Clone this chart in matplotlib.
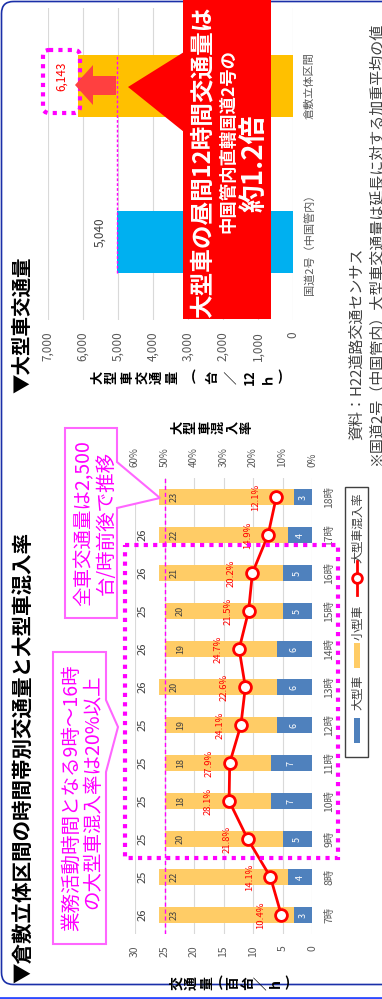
import matplotlib
matplotlib.use("Agg")
import matplotlib.pyplot as plt
from matplotlib.patches import Polygon, FancyBboxPatch, Rectangle
import numpy as np

plt.rcParams['font.family'] = ['Noto Sans CJK JP', 'DejaVu Sans']

# ---- data: hourly traffic at the Kurashiki section (hundred vehicles / h)
hours = ["7時", "8時", "9時", "10時", "11時", "12時", "13時", "14時", "15時", "16時", "17時", "18時"]
large = [3, 4, 5, 7, 7, 6, 6, 6, 5, 5, 4, 3]
small = [23, 22, 20, 18, 18, 19, 20, 19, 20, 21, 22, 23]
total_labels = ["26", "25", "25", "25", "25", "25", "26", "26", "25", "26", "26", ""]
mix_rate = [10.4, 14.1, 21.8, 28.1, 27.9, 24.1, 22.6, 24.7, 21.5, 20.2, 14.9, 12.1]

# ---- data: heavy vehicle volume (vehicles / 12h)
roads = ["国道2号（中国管内）", "倉敷立体区間"]
heavy_12h = [5040, 6143]
heavy_labels = ["5,040", "6,143"]

W, H = 382, 999
fig = plt.figure(figsize=(W / 100, H / 100), dpi=100)


def box(x0, y0, x1, y1):
    # pixel box (y down) -> figure fraction rect
    return [x0 / W, 1 - y1 / H, (x1 - x0) / W, (y1 - y0) / H]


BLUE = '#4F81BD'
ORANGE = '#FFCC66'
GRAY = '#595959'
MAG = '#FF00FF'

# ================= left chart =================
ax1 = fig.add_axes(box(135, 478, 312, 934))
y = np.arange(len(hours))
ax1.barh(y, large, height=0.44, color=BLUE, zorder=2)
ax1.barh(y, small, left=large, height=0.44, color=ORANGE, zorder=2)
ax1.set_xlim(30, 0)
ax1.set_ylim(-0.5, len(hours) - 0.5)
ax1.set_xticks(range(0, 31, 5))
ax1.tick_params(axis='x', labelrotation=90, labelsize=7.5, labelcolor=GRAY, length=0, pad=8)
ax1.grid(axis='x', color='#D9D9D9', lw=0.8)
ax1.set_axisbelow(True)
ax1.yaxis.tick_right()
ax1.set_yticks(y)
ax1.set_yticklabels(hours, rotation=90, va='center')
ax1.tick_params(axis='y', length=0, pad=9, labelsize=7.5, labelcolor=GRAY)
for s in ax1.spines.values():
    s.set_visible(False)
ax1.axvline(25, color=MAG, lw=1, ls=(0, (3, 2)), zorder=3)

for i in range(len(hours)):
    ax1.text(large[i] / 2, i, str(large[i]), rotation=90, ha='center', va='center',
             color='white', fontsize=6.5, zorder=4)
    ax1.text(large[i] + small[i] - 2.7, i, str(small[i]), rotation=90, ha='center',
             va='center', color='#404040', fontsize=6.5, zorder=4)
    ax1.text(28.8, i, total_labels[i], rotation=90, ha='center', va='center',
             color='#404040', fontsize=8, zorder=4)

ax2 = ax1.twiny()
ax2.set_xlim(60, 0)
ax2.set_xticks(range(0, 61, 10))
ax2.set_xticklabels([f"{v}%" for v in range(0, 61, 10)])
ax2.tick_params(axis='x', labelrotation=90, labelsize=7, labelcolor=GRAY, length=0, pad=8)
for s in ax2.spines.values():
    s.set_visible(False)
ax2.plot(mix_rate, y, color='#FF0000', lw=2, marker='o', ms=8.5, mfc='white',
         mec='#FF0000', mew=2, zorder=5)
for i, p in enumerate(mix_rate):
    ax2.annotate(f"{p}%", (p, i), xytext=(-15, 0), textcoords='offset points',
                 rotation=90, ha='center', va='center', color='#FF0000', fontsize=6.8)

# ================= right chart =================
ax3 = fig.add_axes(box(48, 8, 293, 320))
yy = np.arange(len(roads))
ax3.barh(yy, heavy_12h, height=0.4, color=['#00B0F0', '#FFC000'], zorder=2)
ax3.set_xlim(7000, 0)
ax3.set_ylim(-0.5, len(roads) - 0.5)
ax3.set_xticks(range(0, 7001, 1000))
ax3.set_xticklabels([f"{v:,}" for v in range(0, 7001, 1000)])
ax3.tick_params(axis='x', labelrotation=90, labelsize=8.5, labelcolor=GRAY, length=0, pad=8)
ax3.grid(axis='x', color='#D9D9D9', lw=0.8)
ax3.set_axisbelow(True)
ax3.yaxis.tick_right()
ax3.set_yticks(yy)
ax3.set_yticklabels(roads, rotation=90, va='center')
ax3.tick_params(axis='y', length=0, pad=8, labelsize=8, labelcolor=GRAY)
for s in ax3.spines.values():
    s.set_visible(False)
ax3.vlines(heavy_12h[0], -0.2, 1.2, color=MAG, lw=1, ls=(0, (2, 1.5)), zorder=3)
for i, v in enumerate(heavy_12h):
    ax3.annotate(heavy_labels[i], (v, i), xytext=(-12, 7), textcoords='offset points',
                 rotation=90, ha='center', va='center', fontsize=8.5,
                 color='#404040' if i == 0 else '#FF0000')

# ================= overlay =================
ov = fig.add_axes([0, 0, 1, 1], zorder=10)
ov.set_xlim(0, W)
ov.set_ylim(H, 0)
ov.axis('off')

# frame
ov.add_patch(FancyBboxPatch((1.5, 1.5), 430, 983, boxstyle='round,pad=0,rounding_size=12',
                            ec='#1A2FA8', fc='none', lw=1.2, clip_on=False))
ov.plot([0, W], [997.5, 997.5], color='#2E4BFF', lw=2)

# titles
ov.text(23, 983, "▼倉敷立体区間の時間帯別交通量と大型車混入率", rotation=90, ha='center',
        va='bottom', fontsize=14.8, fontweight='bold', color='black')
ov.text(23, 393, "▼大型車交通量", rotation=90, ha='center', va='bottom',
        fontsize=14, fontweight='bold', color='black')

# notes
ov.text(357, 440, "資料：H22道路交通センサス", rotation=90, ha='center', va='bottom',
        fontsize=10.8, color='#404040')
ov.text(376, 465, "※国道2号（中国管内）大型車交通量は延長に対する加重平均の値", rotation=90,
        ha='center', va='bottom', fontsize=10.8, color='#404040')


def stacked(chars, xs, yc, size):
    for c, xc in zip(chars, xs):
        rot = 0 if c in "()（）" else 90
        ov.text(xc, yc, c, rotation=rot, ha='center', va='center', fontsize=size,
                fontweight='bold', color='black')


stacked(["交", "通", "量", "(", "百", "台", "／", "h", ")"],
        [177, 192, 207, 220, 233, 248, 262, 276, 287], 983, 10)
stacked(list("大型車混入率"), [177, 191, 205, 219, 233, 247], 427, 9.5)
stacked(["大", "型", "車", "交", "通", "量", "(", "台", "／", "12", "ｈ", ")"],
        [97, 112, 127, 142, 157, 172, 193, 212, 231, 250, 266, 280], 377, 9.5)

# dotted frame around 9-16h
ov.add_patch(Rectangle((125, 545), 213, 313, fill=False, ec=MAG, lw=3,
                       linestyle=(0, (1, 1.25))))

# callout 1
ov.add_patch(Polygon([(53, 652), (106, 652), (106, 700), (118, 727), (106, 772),
                      (106, 944), (53, 944)], closed=True, fc='white', ec='#FF66FF', lw=1.5))
ov.text(72, 798, "業務活動時間となる9時～16時", rotation=90, ha='center', va='center',
        fontsize=14, color=MAG)
ov.text(93, 792, "の大型車混入率は20%以上", rotation=90, ha='center', va='center',
        fontsize=14, color=MAG)

# callout 2
ov.add_patch(Polygon([(65, 428), (117, 428), (117, 462), (160, 498), (117, 508),
                      (117, 618), (65, 618)], closed=True, fc='white', ec='#FF66FF', lw=1.5))
ov.text(84, 523, "全車交通量は2,500", rotation=90, ha='center', va='center',
        fontsize=14, color=MAG)
ov.text(106, 523, "台/時前後で推移", rotation=90, ha='center', va='center',
        fontsize=14, color=MAG)

# legend
ov.add_patch(Rectangle((345, 487), 23, 270, fc='white', ec='#404040', lw=1))
ov.add_patch(Rectangle((354, 718), 6, 25, fc=BLUE, ec='none'))
ov.text(358, 692, "大型車", rotation=90, ha='center', va='center', fontsize=8.5, color='#404040')
ov.add_patch(Rectangle((354, 643), 6, 25, fc=ORANGE, ec='none'))
ov.text(358, 622, "小型車", rotation=90, ha='center', va='center', fontsize=8.5, color='#404040')
ov.plot([357, 357], [561, 595], color='#FF0000', lw=2)
ov.plot([357], [578], marker='o', ms=7, mfc='white', mec='#FF0000', mew=2)
ov.text(358, 528, "大型車混入率", rotation=90, ha='center', va='center', fontsize=8.5,
        color='#404040')

# right chart annotations
ov.add_patch(FancyBboxPatch((43, 50), 37, 63, boxstyle='round,pad=0,rounding_size=6',
                            fc='none', ec=MAG, lw=3, linestyle=(0, (1, 1.25))))
ov.add_patch(Polygon([(116, 76), (93, 76), (93, 65), (75, 85), (93, 105), (93, 95), (116, 95)],
                     closed=True, fc='#FF4040', ec='none'))
ov.add_patch(Rectangle((183, 0), 88, 319, fc='#FF0000', ec='none'))
ov.add_patch(Polygon([(184, 52), (128, 87), (184, 132)], closed=True, fc='#FF0000', ec='none'))
ov.text(203, 162, "大型車の昼間12時間交通量は", rotation=90, ha='center', va='center',
        fontsize=17, fontweight='bold', color='white')
ov.text(228, 141, "中国管内直轄国道2号の", rotation=90, ha='center', va='center',
        fontsize=12.5, fontweight='bold', color='white')
ov.text(255, 163, "約1.2倍", rotation=90, ha='center', va='center',
        fontsize=20, fontweight='bold', color='white')

fig.savefig("out.png", dpi=100)
